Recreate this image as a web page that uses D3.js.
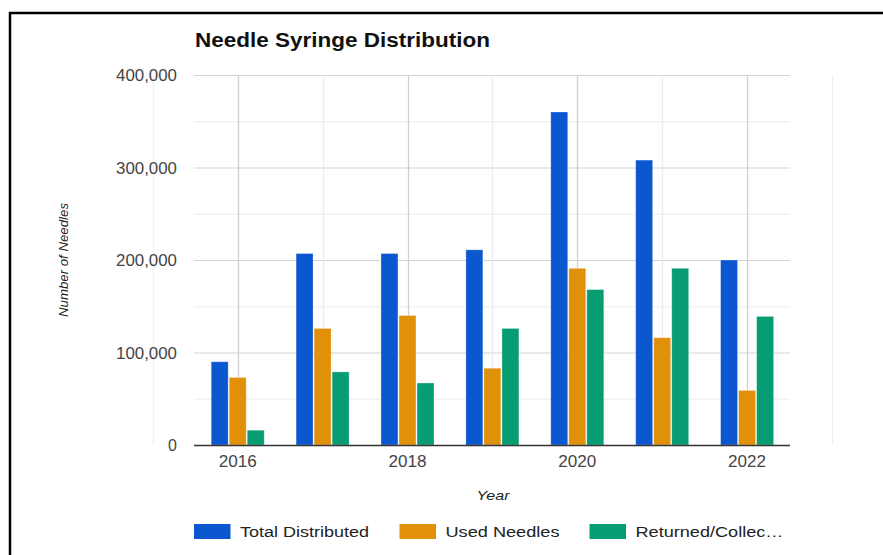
<!DOCTYPE html>
<html>
<head>
<meta charset="utf-8">
<script src="https://cdn.jsdelivr.net/npm/d3@7"></script>
<style>
  body { margin: 0; background: #fff; }
  text { font-family: "Liberation Sans", Arial, sans-serif; }
</style>
</head>
<body>
<div class="chart"></div>
<script>
// data
var years = [2016, 2017, 2018, 2019, 2020, 2021, 2022];
var seriesNames = ["Total Distributed", "Used Needles", "Returned/Collec\u2026"];
var totalDistributed = [90000, 207000, 207000, 211000, 360000, 308000, 200000];
var usedNeedles = [73000, 126000, 140000, 83000, 191000, 116000, 59000];
var returnedCollected = [16000, 79000, 67000, 126000, 168000, 191000, 139000];
var yTicks = [0, 100000, 200000, 300000, 400000];
var xTicks = [2016, 2018, 2020, 2022];

var colors = ["#0b57d0", "#e1900a", "#079c72"];
var W = 883, H = 555;

var svg = d3.select(".chart").append("svg")
    .attr("width", W)
    .attr("height", H);

// frame
svg.append("rect")
    .attr("x", 10).attr("y", 13)
    .attr("width", 900).attr("height", 600)
    .attr("fill", "none")
    .attr("stroke", "#000")
    .attr("stroke-width", 2.5);

var plotLeft = 194, plotRight = 790, plotTop = 75, plotBottom = 445;

var x = d3.scaleLinear().domain([2015, 2023]).range([152.8, 832]);
var y = d3.scaleLinear().domain([0, 400000]).range([plotBottom, plotTop]);

// horizontal grid (major + minor)
var hLines = d3.range(0, 400001, 50000);
svg.selectAll(".hgrid")
    .data(hLines)
    .enter().append("line")
    .attr("class", "hgrid")
    .attr("x1", plotLeft).attr("x2", plotRight)
    .attr("y1", function(d) { return y(d) + 0.5; })
    .attr("y2", function(d) { return y(d) + 0.5; })
    .attr("stroke", function(d) { return d % 100000 === 0 ? "#d4d4d4" : "#ececec"; })
    .attr("stroke-width", 1.2);

// vertical grid
var vLines = d3.range(2015, 2024);
svg.selectAll(".vgrid")
    .data(vLines)
    .enter().append("line")
    .attr("class", "vgrid")
    .attr("x1", function(d) { return Math.round(x(d)) + 0.5; })
    .attr("x2", function(d) { return Math.round(x(d)) + 0.5; })
    .attr("y1", plotTop).attr("y2", plotBottom)
    .attr("stroke", function(d) {
        if (d === 2015 || d === 2023) return "#f0f0f0";
        return d % 2 === 0 ? "#d0d0d0" : "#ececec";
    })
    .attr("stroke-width", 1.3);

// bars
var table = years.map(function(yr, i) {
    return {
        year: yr,
        values: [totalDistributed[i], usedNeedles[i], returnedCollected[i]]
    };
});

var x1 = d3.scaleBand().domain([0, 1, 2]).range([-26.5, 26.5]).paddingInner(0.06);

var groups = svg.selectAll(".grp")
    .data(table)
    .enter().append("g")
    .attr("class", "grp")
    .attr("transform", function(d) { return "translate(" + x(d.year) + ",0)"; });

groups.selectAll("rect")
    .data(function(d) { return d.values; })
    .enter().append("rect")
    .attr("x", function(d, i) { return x1(i); })
    .attr("width", x1.bandwidth())
    .attr("y", function(d) { return y(d); })
    .attr("height", function(d) { return plotBottom - y(d); })
    .attr("fill", function(d, i) { return colors[i]; })
    .attr("stroke", "rgba(255,255,255,0.35)")
    .attr("stroke-width", 0.8);

// baseline
svg.append("line")
    .attr("x1", plotLeft).attr("x2", plotRight)
    .attr("y1", plotBottom + 0.5).attr("y2", plotBottom + 0.5)
    .attr("stroke", "#333")
    .attr("stroke-width", 1.3);

// y axis labels
svg.selectAll(".ylab")
    .data(yTicks)
    .enter().append("text")
    .attr("class", "ylab")
    .attr("x", 177)
    .attr("y", function(d) { return y(d) + 6; })
    .attr("text-anchor", "end")
    .attr("font-size", 16)
    .attr("fill", "#444")
    .attr("textLength", function(d) { return d === 0 ? null : 61; })
    .attr("lengthAdjust", "spacingAndGlyphs")
    .text(function(d) { return d3.format(",")(d); });

// x axis labels
svg.selectAll(".xlab")
    .data(xTicks)
    .enter().append("text")
    .attr("class", "xlab")
    .attr("x", function(d) { return x(d); })
    .attr("y", 467)
    .attr("text-anchor", "middle")
    .attr("font-size", 16)
    .attr("fill", "#444")
    .attr("textLength", 38)
    .attr("lengthAdjust", "spacingAndGlyphs")
    .text(function(d) { return d; });

// title
svg.append("text")
    .attr("x", 195).attr("y", 47)
    .attr("font-size", 19.5)
    .attr("font-weight", "bold")
    .attr("fill", "#111")
    .attr("textLength", 295)
    .attr("lengthAdjust", "spacingAndGlyphs")
    .text("Needle Syringe Distribution");

// axis titles
svg.append("text")
    .attr("x", 493).attr("y", 500)
    .attr("text-anchor", "middle")
    .attr("font-size", 13)
    .attr("font-style", "italic")
    .attr("fill", "#222")
    .attr("textLength", 33)
    .attr("lengthAdjust", "spacingAndGlyphs")
    .text("Year");

svg.append("text")
    .attr("transform", "translate(68,260) rotate(-90)")
    .attr("text-anchor", "middle")
    .attr("font-size", 13)
    .attr("font-style", "italic")
    .attr("fill", "#222")
    .attr("textLength", 114)
    .attr("lengthAdjust", "spacingAndGlyphs")
    .text("Number of Needles");

// legend
var legendX = [194, 399.5, 589.5];
var legendLen = [129, 114, 148];
var legend = svg.selectAll(".leg")
    .data(seriesNames)
    .enter().append("g")
    .attr("class", "leg")
    .attr("transform", function(d, i) { return "translate(" + legendX[i] + ",524)"; });

legend.append("rect")
    .attr("width", 36.5).attr("height", 15)
    .attr("fill", function(d, i) { return colors[i]; });

legend.append("text")
    .attr("x", 46).attr("y", 12.5)
    .attr("font-size", 15.5)
    .attr("fill", "#222")
    .attr("textLength", function(d, i) { return legendLen[i]; })
    .attr("lengthAdjust", "spacingAndGlyphs")
    .text(function(d) { return d; });
</script>
</body>
</html>
